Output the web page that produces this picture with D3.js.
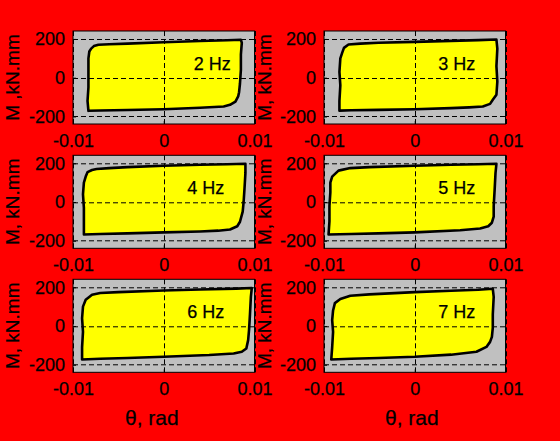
<!DOCTYPE html>
<html><head><meta charset="utf-8">
<script src="https://cdn.jsdelivr.net/npm/d3@7"></script>
<style>html,body{margin:0;padding:0;background:#ff0000;} svg{display:block}</style>
</head><body>
<svg id="c" width="560" height="441"></svg>
<script>
// ---- data ----
const freqLabels = ["2 Hz", "3 Hz", "4 Hz", "5 Hz", "6 Hz", "7 Hz"];
const yAxisLabels = ["M ,kN.mm", "M, kN.mm", "M, kN.mm", "M, kN.mm", "M, kN.mm", "M, kN.mm"];
const xAxisLabel = "\u03b8, rad";
const xTicks = [-0.01, 0, 0.01];
const xTickLabels = ["-0.01", "0", "0.01"];
const yTicks = [-200, 0, 200];
const yTickLabels = ["-200", "0", "200"];

const theta2Hz = [-0.0083,-0.0082,-0.0080,-0.0077,-0.0072,-0.0060,-0.0040,0,0.0040,0.0070,0.0085,
  0.0086,0.0085,0.0085,0.0084,0.0083,0.0082,0.0079,0.0073,0.0066,0.0040,0,-0.0040,-0.0070,-0.0083,
  -0.0084,-0.0083,-0.0083,-0.0083];
const moment2Hz = [100,135,150,163,170,173,176,183,189,193,196,
  180,120,40,-30,-75,-97,-123,-140,-149,-155,-163,-167,-169,-171,
  -120,-50,20,100];

const theta3Hz = [-0.0082,-0.0080,-0.0078,-0.0073,-0.0060,-0.0040,0,0.0040,0.0070,0.0090,
  0.0091,0.0090,0.0091,0.0090,0.0086,0.0083,0.0075,0.0060,0.0040,0,-0.0040,-0.0070,-0.0083,
  -0.0083,-0.0082,-0.0083,-0.0082];
const moment3Hz = [100,128,154,171,176,180,185,190,194,197,
  150,60,-20,-88,-114,-135,-149,-153,-157,-163,-166,-168,-170,
  -120,-40,30,100];

const theta4Hz = [-0.0088,-0.0086,-0.0084,-0.0079,-0.0074,-0.0060,-0.0040,0,0.0040,0.0070,0.0090,
  0.0090,0.0089,0.0088,0.0087,0.0084,0.0081,0.0073,0.0060,0.0040,0,-0.0040,-0.0070,-0.0088,
  -0.0088,-0.0088,-0.0089,-0.0088];
const moment4Hz = [100,131,154,165,170,175,180,187,192,195,197,
  150,70,0,-50,-102,-125,-142,-148,-152,-157,-162,-165,-168,
  -110,-30,40,100];

const theta5Hz = [-0.0093,-0.0091,-0.0084,-0.0071,-0.0050,0,0.0040,0.0070,0.0090,
  0.0089,0.0088,0.0087,0.0087,0.0085,0.0081,0.0072,0.0050,0,-0.0040,-0.0070,-0.0095,
  -0.0094,-0.0094,-0.0093,-0.0093];
const moment5Hz = [100,131,162,175,180,187,192,195,197,
  150,60,-20,-76,-107,-125,-137,-146,-157,-162,-165,-168,
  -100,-20,50,100];

const theta6Hz = [-0.0089,-0.0086,-0.0079,-0.0070,-0.0050,0,0.0040,0.0080,0.0097,
  0.0096,0.0095,0.0094,0.0093,0.0091,0.0086,0.0077,0.0050,0,-0.0040,-0.0070,-0.0090,
  -0.0090,-0.0089,-0.0090,-0.0089];
const moment6Hz = [100,135,161,170,175,183,188,193,196,
  150,60,-20,-73,-116,-133,-142,-150,-159,-165,-169,-173,
  -110,-30,40,100];

const theta7Hz = [-0.0090,-0.0088,-0.0082,-0.0071,-0.0050,0,0.0040,0.0070,0.0086,
  0.0087,0.0086,0.0086,0.0085,0.0083,0.0079,0.0068,0.0040,0,-0.0040,-0.0070,-0.0092,
  -0.0091,-0.0090,-0.0091,-0.0090];
const moment7Hz = [80,118,139,156,163,175,182,187,192,
  150,60,-10,-56,-82,-108,-133,-148,-159,-165,-169,-173,
  -110,-30,30,80];

const loopTheta = [theta2Hz, theta3Hz, theta4Hz, theta5Hz, theta6Hz, theta7Hz];
const loopMoment = [moment2Hz, moment3Hz, moment4Hz, moment5Hz, moment6Hz, moment7Hz];

// ---- layout ----
const FONT = "'Liberation Sans', Arial, Helvetica, sans-serif";
const colLeft = [73, 324];
const rowTop = [31, 155.3, 279.3];
const pw = 181.5, ph = 93;
const svg = d3.select("#c");
svg.append("rect").attr("width", 560).attr("height", 441).attr("fill", "#ff0000");

const labelPos = [[0.0033, 41], [0.0026, 41], [0.0026, 41], [0.0026, 41], [0.0026, 41], [0.0026, 41]];

freqLabels.forEach((lab, i) => {
  const c = i % 2, r = Math.floor(i / 2);
  const x0 = colLeft[c], y0 = rowTop[r];
  const x = d3.scaleLinear().domain([-0.01, 0.01]).range([0, pw]);
  const y = d3.scaleLinear().domain([-239, 241]).range([ph, 0]);
  const g = svg.append("g").attr("transform", `translate(${x0},${y0})`);

  g.append("rect").attr("width", pw).attr("height", ph).attr("fill", "#c0c0c0");

  const pts = loopTheta[i].map((t, k) => [t, loopMoment[i][k]]);
  const line = d3.line().x(d => x(d[0])).y(d => y(d[1]));

  g.append("path").attr("d", line(pts) + "Z").attr("fill", "#ffff00").attr("stroke", "none");

  // grid
  const grid = g.append("g").attr("stroke", "#000").attr("stroke-width", 1).attr("stroke-dasharray", "5,3");
  yTicks.forEach(v => grid.append("line").attr("x1", 0).attr("x2", pw)
    .attr("y1", Math.round(y(v)) + 0.5).attr("y2", Math.round(y(v)) + 0.5));
  xTicks.forEach(v => grid.append("line").attr("y1", 0).attr("y2", ph)
    .attr("x1", Math.round(x(v)) + 0.5).attr("x2", Math.round(x(v)) + 0.5));

  g.append("path").attr("d", line(pts) + "Z").attr("fill", "none")
    .attr("stroke", "#000").attr("stroke-width", 2.6).attr("stroke-linejoin", "round");

  // axes
  const ax = g.append("g").attr("transform", `translate(0,${ph})`)
    .call(d3.axisBottom(x).tickValues(xTicks).tickFormat((d, k) => xTickLabels[k])
      .tickSizeInner(-3).tickSizeOuter(0).tickPadding(10));
  const ay = g.append("g")
    .call(d3.axisLeft(y).tickValues(yTicks).tickFormat((d, k) => yTickLabels[k])
      .tickSizeInner(-3).tickSizeOuter(0).tickPadding(8));
  [ax, ay].forEach(a => {
    a.select(".domain").remove();
    a.selectAll("text").attr("font-family", FONT).attr("font-size", 18).attr("fill", "#000")
      .attr("stroke", "#000").attr("stroke-width", 0.25);
    a.selectAll("line").attr("stroke", "#000");
  });
  g.append("rect").attr("width", pw).attr("height", ph).attr("fill", "none")
    .attr("stroke", "#000").attr("stroke-width", 1);

  // frequency label
  g.append("text").attr("x", x(labelPos[i][0])).attr("y", y(labelPos[i][1]))
    .attr("font-family", FONT).attr("font-size", 18).attr("fill", "#000")
    .attr("stroke", "#000").attr("stroke-width", 0.25).text(lab);

  // y label
  const lx = c === 0 ? 18.5 : 270.5;
  svg.append("text")
    .attr("transform", `translate(${lx},${y0 + ph / 2}) rotate(-90)`)
    .attr("text-anchor", "middle")
    .attr("font-family", FONT).attr("font-size", 19).attr("fill", "#000")
    .attr("stroke", "#000").attr("stroke-width", 0.25)
    .text(yAxisLabels[i]);

  // x label on bottom row
  if (r === 2) {
    svg.append("text")
      .attr("x", c === 0 ? 125 : 385).attr("y", 425)
      .attr("font-family", FONT).attr("font-size", 21).attr("fill", "#000")
      .attr("stroke", "#000").attr("stroke-width", 0.25)
      .text(xAxisLabel);
  }
});
</script>
</body></html>
